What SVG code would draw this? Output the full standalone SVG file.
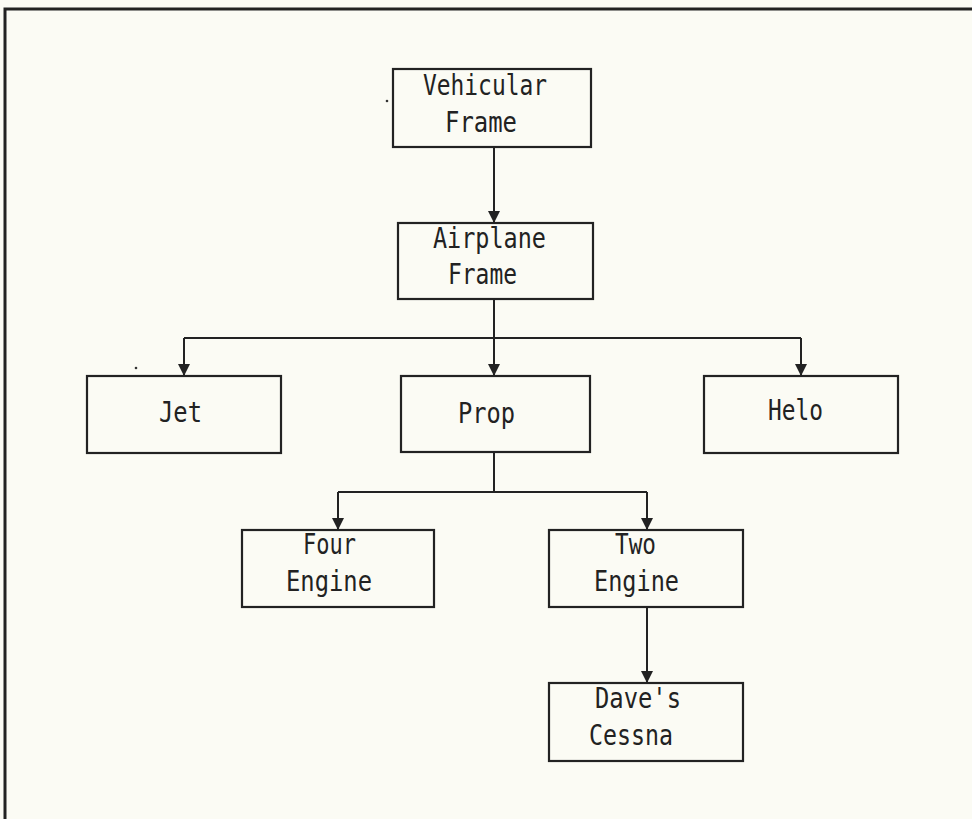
<svg xmlns="http://www.w3.org/2000/svg" width="972" height="819" viewBox="0 0 972 819">
<style>
.box{fill:none;stroke:#222;stroke-width:2.2}
.con{fill:none;stroke:#222;stroke-width:2}
.t{font-family:"DejaVu Sans Mono","Liberation Mono",monospace;font-size:29px;fill:#222}
</style>
<defs>
<marker id="ah" markerWidth="12" markerHeight="12" refX="10" refY="5" orient="auto" markerUnits="userSpaceOnUse" viewBox="0 0 10 10">
<path d="M0,0 L10,5 L0,10 Z" fill="#222"/>
</marker>
</defs>
<rect x="0" y="0" width="972" height="819" fill="#fbfbf4"/>
<g id="frame">
<path d="M5,819 L5,9 L972,9" fill="none" stroke="#222" stroke-width="3"/>
</g>
<g id="specks" fill="#333">
<circle cx="387" cy="101" r="1.3"/>
<circle cx="136" cy="368" r="1.3"/>
</g>
<g id="connectors">
<path class="con" d="M494,147 L494,223" marker-end="url(#ah)"/>
<path class="con" d="M494,299 L494,338"/>
<path class="con" d="M184,338 L801,338"/>
<path class="con" d="M184,338 L184,376" marker-end="url(#ah)"/>
<path class="con" d="M494,338 L494,376" marker-end="url(#ah)"/>
<path class="con" d="M801,338 L801,376" marker-end="url(#ah)"/>
<path class="con" d="M494,452 L494,492"/>
<path class="con" d="M338,492 L647,492"/>
<path class="con" d="M338,492 L338,530" marker-end="url(#ah)"/>
<path class="con" d="M647,492 L647,530" marker-end="url(#ah)"/>
<path class="con" d="M647,607 L647,683" marker-end="url(#ah)"/>
</g>
<g id="vehicular">
<rect class="box" x="393" y="69" width="198" height="78"/>
<text class="t" x="423" y="95" textLength="124" lengthAdjust="spacingAndGlyphs">Vehicular</text>
<text class="t" x="445" y="132" textLength="72" lengthAdjust="spacingAndGlyphs">Frame</text>
</g>
<g id="airplane">
<rect class="box" x="398" y="223" width="195" height="76"/>
<text class="t" x="433" y="248" textLength="113" lengthAdjust="spacingAndGlyphs">Airplane</text>
<text class="t" x="448" y="284" textLength="69" lengthAdjust="spacingAndGlyphs">Frame</text>
</g>
<g id="jet">
<rect class="box" x="87" y="376" width="194" height="77"/>
<text class="t" x="159" y="422" textLength="43" lengthAdjust="spacingAndGlyphs">Jet</text>
</g>
<g id="prop">
<rect class="box" x="401" y="376" width="189" height="76"/>
<text class="t" x="458" y="423" textLength="57" lengthAdjust="spacingAndGlyphs">Prop</text>
</g>
<g id="helo">
<rect class="box" x="704" y="376" width="194" height="77"/>
<text class="t" x="768" y="420" textLength="55" lengthAdjust="spacingAndGlyphs">Helo</text>
</g>
<g id="four-engine">
<rect class="box" x="242" y="530" width="192" height="77"/>
<text class="t" x="303" y="554" textLength="53" lengthAdjust="spacingAndGlyphs">Four</text>
<text class="t" x="286" y="591" textLength="86" lengthAdjust="spacingAndGlyphs">Engine</text>
</g>
<g id="two-engine">
<rect class="box" x="549" y="530" width="194" height="77"/>
<text class="t" x="615" y="554" textLength="41" lengthAdjust="spacingAndGlyphs">Two</text>
<text class="t" x="594" y="591" textLength="85" lengthAdjust="spacingAndGlyphs">Engine</text>
</g>
<g id="daves-cessna">
<rect class="box" x="549" y="683" width="194" height="78"/>
<text class="t" x="595" y="708" textLength="86" lengthAdjust="spacingAndGlyphs">Dave's</text>
<text class="t" x="589" y="745" textLength="84" lengthAdjust="spacingAndGlyphs">Cessna</text>
</g>
</svg>
